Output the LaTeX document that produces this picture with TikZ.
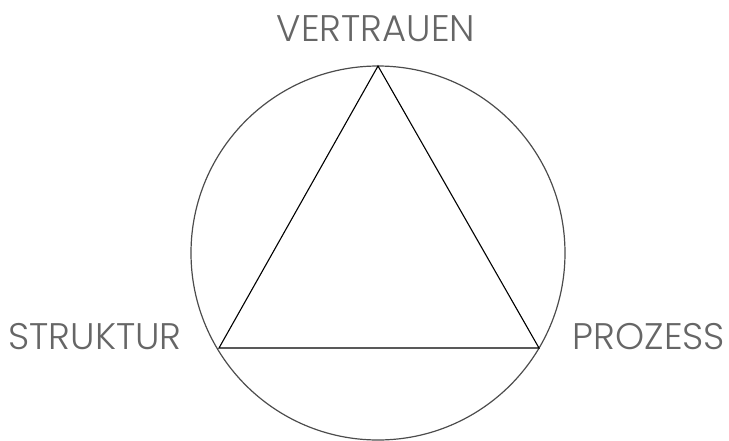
\documentclass[tikz,border=0pt]{standalone}
\usepackage{fontspec}
\setmainfont{Poppins}[UprightFont=*-Light]
\begin{document}
\begin{tikzpicture}[x=1pt,y=-1pt,
  label/.style={text=black!60, font=\fontsize{37}{40}\selectfont, inner sep=0pt, anchor=center},
  ring/.style={draw=black!70, line width=1.2pt},
  tri/.style={draw=black, line width=1.1pt, line join=miter}]
\useasboundingbox (0,0) rectangle (729,440);
\coordinate (c) at (378,253);
\draw[ring] (c) circle[radius=187];
\coordinate (v) at (378,66);
\coordinate (s) at (219,348);
\coordinate (p) at (539,348);
\draw[tri] (v) -- (s) -- (p) -- cycle;
\node[label] (tv) at (376,29) {VERTRAUEN};
\node[label] (ts) at (95,337) {STRUKTUR};
\node[label] (tp) at (649,337) {PROZESS};
\end{tikzpicture}
\end{document}
